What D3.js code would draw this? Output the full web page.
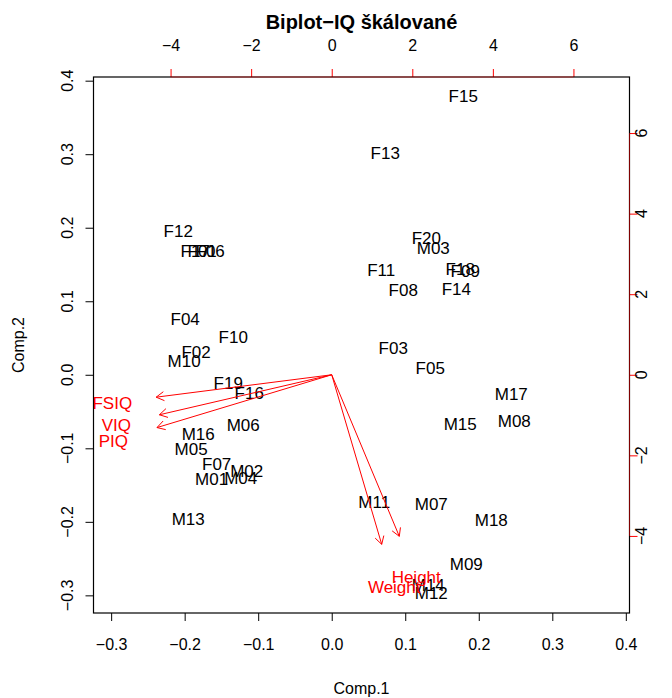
<!DOCTYPE html>
<html><head><meta charset="utf-8">
<script src="https://cdn.jsdelivr.net/npm/d3@7"></script>
<style>
body{margin:0;background:#fff;}
svg text{font-family:"Liberation Sans",Arial,Helvetica,sans-serif;}
</style></head>
<body><svg id="c" width="672" height="698"></svg>
<script>
// observation labels and scores (Comp.1, Comp.2)
const obsLabels = ["F15","F13","F12","F17","F01","F06","F20","M03","F11","F18","F09","F08","F14","F04","F10","F02","M10","F03","F05","F19","F16","M17","M08","M15","M06","M16","M05","F07","M02","M01","M04","M13","M11","M07","M18","M09","M14","M12"];
const comp1 = [0.1789,0.0728,-0.2088,-0.1857,-0.1762,-0.1653,0.1286,0.1381,0.0673,0.1748,0.1816,0.0973,0.1694,-0.1993,-0.1340,-0.1844,-0.2007,0.0837,0.1340,-0.1408,-0.1122,0.2442,0.2483,0.1748,-0.1204,-0.1816,-0.1912,-0.1565,-0.1156,-0.1633,-0.1238,-0.1952,0.0578,0.1354,0.2170,0.1830,0.1313,0.1354];
const comp2 = [0.3791,0.3016,0.1957,0.1685,0.1685,0.1685,0.1861,0.1726,0.1427,0.1440,0.1413,0.1155,0.1168,0.0761,0.0516,0.0313,0.0190,0.0367,0.0095,-0.0109,-0.0245,-0.0258,-0.0632,-0.0673,-0.0679,-0.0802,-0.1005,-0.1209,-0.1304,-0.1413,-0.1399,-0.1957,-0.1726,-0.1753,-0.1970,-0.2568,-0.2853,-0.2962];
// variable labels and loadings (scaled)
const varLabels = ["FSIQ","VIQ","PIQ","Height","Weight"];
const load1 = [-5.447,-5.347,-5.422,2.097,1.551];
const load2 = [-0.695,-1.241,-1.638,-5.012,-5.261];
// tick labels
const xTicks = [-0.3,-0.2,-0.1,0.0,0.1,0.2,0.3,0.4];
const yTicks = [-0.3,-0.2,-0.1,0.0,0.1,0.2,0.3,0.4];
const vTicks = [-4,-2,0,2,4,6];

const L=93.5, T=77, W=536, H=536;
const lim=[-0.324,0.405];
const ratio=18.25;
const x=d3.scaleLinear().domain(lim).range([L,L+W]);
const y=d3.scaleLinear().domain(lim).range([T+H,T]);
const xv=d3.scaleLinear().domain([lim[0]*ratio,lim[1]*ratio]).range([L,L+W]);
const yv=d3.scaleLinear().domain([lim[0]*ratio,lim[1]*ratio]).range([T+H,T]);
const svg=d3.select("#c");
const fmt=d3.format(".1f"), fmtV=d3.format("d");
const tk=8;

// bottom axis
const gb=svg.append("g").attr("transform",`translate(0,${T+H})`)
 .call(d3.axisBottom(x).tickValues(xTicks).tickFormat(fmt).tickSize(tk).tickSizeOuter(0));
gb.select(".domain").remove();
gb.selectAll("text").attr("y",26).attr("font-size",16).attr("font-family",null).attr("fill","#000");
// left axis
const gl=svg.append("g").attr("transform",`translate(${L},0)`)
 .call(d3.axisLeft(y).tickValues(yTicks).tickFormat(fmt).tickSize(tk).tickSizeOuter(0));
gl.select(".domain").remove();
gl.selectAll("text").remove();
svg.append("g").selectAll("text").data(yTicks).join("text")
 .attr("x",67).attr("y",d=>y(d)).attr("dy","0.35em")
 .attr("transform",d=>`rotate(-90,67,${y(d)})`)
 .attr("text-anchor","middle").attr("font-size",16).text(fmt);
// top axis (variables)
const gt=svg.append("g").attr("transform",`translate(0,${T})`)
 .call(d3.axisTop(xv).tickValues(vTicks).tickFormat(fmtV).tickSize(tk).tickSizeOuter(0));
gt.select(".domain").remove();
gt.selectAll("line").attr("stroke","red");
gt.selectAll("text").attr("y",-26).attr("font-size",16).attr("font-family",null).attr("fill","#000");
// right axis (variables)
const gr=svg.append("g").attr("transform",`translate(${L+W},0)`)
 .call(d3.axisRight(yv).tickValues(vTicks).tickFormat(fmtV).tickSize(tk).tickSizeOuter(0));
gr.select(".domain").remove();
gr.selectAll("line").attr("stroke","red");
gr.selectAll("text").remove();
svg.append("g").selectAll("text").data(vTicks).join("text")
 .attr("x",641).attr("y",d=>yv(d)).attr("dy","0.35em")
 .attr("transform",d=>`rotate(-90,641,${yv(d)})`)
 .attr("text-anchor","middle").attr("font-size",16).text(fmtV);

// box
svg.append("rect").attr("x",L).attr("y",T).attr("width",W).attr("height",H)
 .attr("fill","none").attr("stroke","#000").attr("stroke-width",1.2);
// red axis lines over box
svg.append("line").attr("x1",xv(vTicks[0])).attr("x2",xv(vTicks[vTicks.length-1])).attr("y1",T).attr("y2",T)
 .attr("stroke","red").attr("stroke-opacity",0.5);
svg.append("line").attr("y1",yv(vTicks[0])).attr("y2",yv(vTicks[vTicks.length-1])).attr("x1",L+W).attr("x2",L+W)
 .attr("stroke","red").attr("stroke-opacity",0.5);

// observation labels
svg.append("g").selectAll("text").data(obsLabels).join("text")
 .attr("x",(d,i)=>x(comp1[i])).attr("y",(d,i)=>y(comp2[i])).attr("dy","0.36em")
 .attr("text-anchor","middle").attr("font-size",17).attr("fill","#000").text(d=>d);

// arrows
const ga=svg.append("g").attr("stroke","red").attr("stroke-width",1).attr("fill","none");
const hl=9, ang=Math.PI/6;
varLabels.forEach((v,i)=>{
  const x0=xv(0), y0=yv(0), x1=xv(load1[i]*0.8), y1=yv(load2[i]*0.8);
  ga.append("line").attr("x1",x0).attr("y1",y0).attr("x2",x1).attr("y2",y1);
  const th=Math.atan2(y1-y0,x1-x0);
  const p=d3.path();
  p.moveTo(x1-hl*Math.cos(th-ang),y1-hl*Math.sin(th-ang));
  p.lineTo(x1,y1);
  p.lineTo(x1-hl*Math.cos(th+ang),y1-hl*Math.sin(th+ang));
  ga.append("path").attr("d",p.toString());
});
svg.append("g").selectAll("text").data(varLabels).join("text")
 .attr("x",(d,i)=>xv(load1[i])).attr("y",(d,i)=>yv(load2[i])).attr("dy","0.36em")
 .attr("text-anchor","middle").attr("font-size",17).attr("fill","red").text(d=>d);

// titles
svg.append("text").attr("x",L+W/2).attr("y",29).attr("text-anchor","middle")
 .attr("font-size",20).attr("font-weight","bold").text("Biplot\u2212IQ škálované");
svg.append("text").attr("x",L+W/2).attr("y",694).attr("text-anchor","middle")
 .attr("font-size",16).text("Comp.1");
svg.append("text").attr("x",18).attr("y",T+H/2).attr("dy","0.35em").attr("text-anchor","middle")
 .attr("transform",`rotate(-90,18,${T+H/2})`).attr("font-size",16).text("Comp.2");
</script></body></html>
